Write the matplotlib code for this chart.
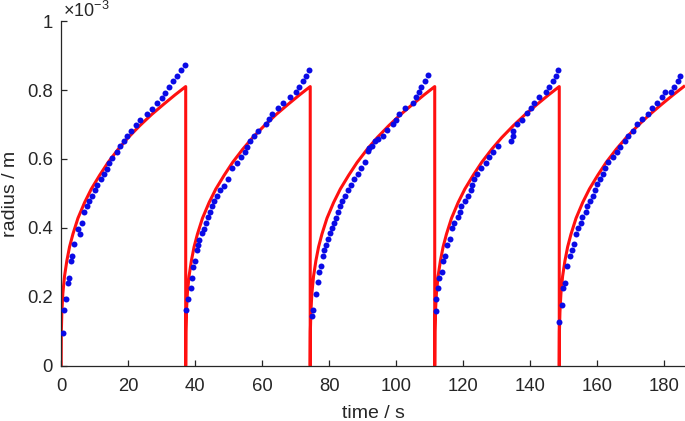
import numpy as np
import matplotlib.pyplot as plt
from matplotlib.ticker import FormatStrFormatter

plt.rcParams['font.family'] = ['Liberation Sans', 'DejaVu Sans']

# model: reset times (s) and the growth profile inside one cycle
cycle_start = [0.0, 37.17, 74.33, 111.5, 148.67]
model_dt = [0, 0.05, 0.2, 0.5, 1, 1.7, 2.5, 3.5, 5, 7, 9, 11.5, 14, 17,
            20, 23.5, 27, 30.5, 34, 37.17]
model_r = [0, 0.10, 0.155, 0.21, 0.26, 0.305, 0.345, 0.382, 0.428, 0.474,
           0.513, 0.553, 0.59, 0.628, 0.662, 0.697, 0.729, 0.758, 0.786, 0.81]

# measured radius (1e-3 m), one pair of lists per growth cycle
t_meas1 = [0.64, 0.94, 1.33, 1.93, 2.33, 2.93, 3.32, 3.92, 4.92, 5.61, 6.11,
           6.91, 7.60, 8.30, 9.29, 10.09, 10.79, 11.78, 12.78, 13.67, 14.37,
           15.26, 16.56, 17.65, 18.65, 19.54, 20.84, 22.43, 23.52, 25.51,
           27.00, 28.50, 30.0, 30.98, 32.18, 33.47, 34.47, 35.76, 37.0]
r_meas1 = [0.096, 0.162, 0.193, 0.241, 0.256, 0.304, 0.319, 0.352, 0.398,
           0.382, 0.415, 0.447, 0.463, 0.478, 0.493, 0.509, 0.524, 0.541,
           0.557, 0.572, 0.588, 0.603, 0.620, 0.637, 0.651, 0.666, 0.682,
           0.698, 0.714, 0.730, 0.746, 0.761, 0.777, 0.792, 0.808, 0.825,
           0.841, 0.858, 0.873]

t_meas2 = [37.25, 37.95, 38.65, 38.95, 39.44, 39.94, 40.44, 40.74, 41.24,
           41.93, 42.63, 43.23, 43.93, 44.42, 44.92, 45.72, 46.41, 47.41,
           48.70, 49.69, 50.89, 52.38, 53.57, 54.87, 55.56, 56.36, 57.55,
           58.84, 61.13, 62.12, 62.82, 64.81, 66.31, 68.30, 70.09, 71.09,
           72.28, 73.08, 74.08]
r_meas2 = [0.162, 0.193, 0.225, 0.256, 0.287, 0.304, 0.335, 0.350, 0.366,
           0.384, 0.398, 0.414, 0.432, 0.446, 0.465, 0.478, 0.492, 0.509,
           0.523, 0.541, 0.573, 0.588, 0.605, 0.620, 0.636, 0.651, 0.668,
           0.682, 0.700, 0.716, 0.730, 0.748, 0.762, 0.779, 0.795, 0.809,
           0.827, 0.841, 0.858]

t_meas3 = [74.77, 75.27, 75.97, 76.57, 76.96, 77.56, 78.26, 78.56, 79.05,
           79.55, 80.25, 80.75, 81.44, 82.04, 82.54, 83.23, 83.93, 84.73,
           85.72, 86.52, 87.42, 88.71, 89.51, 90.71, 91.50, 92.0, 92.70,
           93.69, 94.69, 95.98, 97.37, 98.97, 99.96, 100.96, 102.65, 104.94,
           105.93, 106.83, 107.43, 108.63, 109.62]
r_meas3 = [0.146, 0.162, 0.208, 0.242, 0.273, 0.289, 0.319, 0.335, 0.350,
           0.367, 0.384, 0.400, 0.414, 0.430, 0.446, 0.463, 0.477, 0.492,
           0.509, 0.525, 0.543, 0.557, 0.574, 0.591, 0.622, 0.632, 0.639,
           0.651, 0.658, 0.668, 0.684, 0.700, 0.714, 0.729, 0.748, 0.761,
           0.779, 0.793, 0.809, 0.827, 0.843]

t_meas4 = [111.88, 111.88, 112.58, 112.88, 113.57, 113.87, 114.57, 115.06,
           116.06, 116.76, 117.36, 118.35, 119.05, 119.35, 120.54, 121.54,
           122.24, 122.74, 123.33, 124.03, 125.22, 126.81, 127.81, 129.0,
           130.5, 134.27, 134.77, 134.97, 135.96, 137.45, 138.95, 140.14,
           141.13, 142.73, 144.72, 145.71, 146.71, 147.70, 148.20]
r_meas4 = [0.160, 0.193, 0.225, 0.256, 0.273, 0.304, 0.319, 0.350, 0.367,
           0.400, 0.415, 0.432, 0.446, 0.464, 0.478, 0.493, 0.509, 0.525,
           0.541, 0.557, 0.573, 0.589, 0.605, 0.620, 0.637, 0.651, 0.668,
           0.682, 0.700, 0.714, 0.732, 0.748, 0.761, 0.779, 0.793, 0.809,
           0.825, 0.841, 0.858]

t_meas5 = [148.70, 149.39, 149.89, 150.39, 150.89, 151.88, 152.38, 153.08,
           153.68, 154.37, 155.07, 155.57, 156.57, 157.06, 157.86, 158.65,
           159.35, 160.05, 160.84, 161.64, 162.34, 163.33, 164.83, 165.82,
           166.82, 168.31, 169.30, 170.60, 171.79, 173.48, 175.07, 176.47,
           177.76, 179.45, 180.25, 181.94, 182.94, 184.23, 184.73]
r_meas5 = [0.128, 0.176, 0.225, 0.241, 0.289, 0.319, 0.335, 0.352, 0.382,
           0.400, 0.414, 0.432, 0.446, 0.463, 0.478, 0.493, 0.509, 0.526,
           0.541, 0.557, 0.573, 0.590, 0.605, 0.620, 0.636, 0.651, 0.668,
           0.682, 0.700, 0.716, 0.730, 0.748, 0.762, 0.779, 0.793, 0.793,
           0.809, 0.827, 0.841]

t_meas = t_meas1 + t_meas2 + t_meas3 + t_meas4 + t_meas5
r_meas = r_meas1 + r_meas2 + r_meas3 + r_meas4 + r_meas5

# model line: the same profile after every reset
t_model, r_model = [], []
for t0 in cycle_start:
    t_model += [t0 + d for d in model_dt]
    r_model += model_r

fig = plt.figure(figsize=(6.85, 4.21), dpi=100)
ax = fig.add_axes([0.0893, 0.131, 0.9107, 0.819])

ax.plot(t_model, r_model, color='#ff1010', lw=2.2, zorder=2)
ax.plot(t_meas, r_meas, 'o', color='#0a0ae6', ms=4.3, mec='none', zorder=3)

ax.set_xlim(0, 186.2)
ax.set_ylim(0, 1)
ax.set_xticks(np.arange(0, 181, 20))
ax.set_yticks(np.arange(0, 1.01, 0.2))
ax.yaxis.set_major_formatter(FormatStrFormatter('%g'))

for s in ['top', 'right']:
    ax.spines[s].set_visible(False)
for s in ['left', 'bottom']:
    ax.spines[s].set_color('#262626')
    ax.spines[s].set_linewidth(0.9)
ax.tick_params(direction='in', length=4, width=0.9, color='#262626',
               labelcolor='#262626', labelsize=13.3)
ax.tick_params(axis='x', pad=9)
ax.tick_params(axis='y', pad=6)

ax.set_xlabel('time / s', fontsize=14, color='#262626', labelpad=7)
ax.set_ylabel('radius / m', fontsize=14, color='#262626', labelpad=6)
ax.text(0.003, 1.0, '×10$^{\\mathregular{-3}}$', transform=ax.transAxes,
        ha='left', va='bottom', fontsize=13, color='#262626')

fig.savefig('out.png', dpi=100)
